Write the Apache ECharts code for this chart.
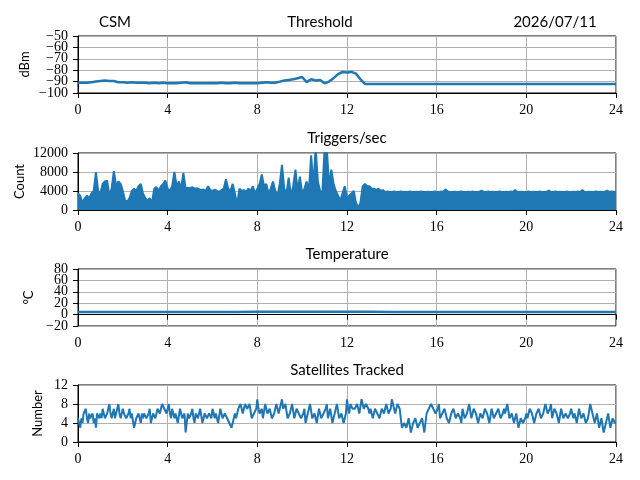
<!DOCTYPE html>
<html>
<head>
<meta charset="utf-8">
<script src="https://cdn.jsdelivr.net/npm/echarts@6/dist/echarts.min.js"></script>
<style>html,body{margin:0;padding:0;background:#fff}#c{width:640px;height:480px}</style>
</head>
<body>
<div id="c"></div>
<script>
// ---- data ----
const thresholdStep = 0.2; // hours
const threshold = [
  -91,-91,-91,-90.5,-90,-89.5,-89,-89.5,-89.5,-90.5,
  -90.5,-91,-90.5,-91,-91,-91,-91.5,-91,-91.5,-91,
  -91.5,-91.5,-91.5,-91,-90.5,-91.5,-91.5,-91.5,-91.5,-91.5,
  -91.5,-91.5,-91,-91.5,-91.5,-91,-91.5,-91.5,-91.5,-91.5,
  -91.5,-91,-90.5,-91,-91,-90,-89,-88.5,-88,-87,
  -86,-90.5,-88,-89,-88.5,-91.5,-90,-87,-83.5,-81.5,
  -82,-81.5,-83,-88,-92,-92,-92,-92,-92,-92,
  -92,-92,-92,-92,-92,-92,-92,-92,-92,-92,
  -92,-92,-92,-92,-92,-92,-92,-92,-92,-92,
  -92,-92,-92,-92,-92,-92,-92,-92,-92,-92,
  -92,-92,-92,-92,-92,-92,-92,-92,-92,-92,
  -92,-92,-92,-92,-92,-92,-92,-92,-92,-92,
  -92
];
const triggersStep = 0.1;
const triggers = [
  3500,3000,1500,2500,3000,2500,3500,4000,8000,4000,
  3500,5500,6000,6200,3000,4500,8200,5000,6000,5500,
  4000,2000,1800,2500,4000,4500,4000,5000,5500,3500,
  2500,2000,2500,1500,4500,4800,4000,5000,5500,6200,
  4500,4000,5000,8000,5000,6000,4500,7800,4500,4700,
  4600,4800,4500,4600,4400,4200,4300,4000,5000,4200,
  4000,4300,4000,3800,4200,4500,6500,4500,4000,5500,
  3500,1000,4500,4000,4200,3800,4500,4000,5000,3500,
  4500,5500,7500,5000,5500,3500,4500,6000,4000,3000,
  5500,9500,4500,3500,6800,3000,5000,8500,4000,7000,
  3500,4500,6000,4000,11500,5000,13000,6000,4000,3500,
  13000,13000,5000,8500,5500,4000,3000,2000,3500,5000,
  2500,3000,3500,4000,1500,500,1500,5000,5500,5000,
  5000,4500,4500,4200,4500,4000,4200,3800,3900,3800,
  3800,3900,3800,3800,3900,3800,3850,3800,3900,3800,
  3800,3850,3800,3900,3800,3800,3850,3800,3800,3900,
  3800,3800,3900,3850,4300,3900,3800,3800,3850,3800,
  3800,3900,3800,3800,3850,3800,3900,3800,3800,3850,
  4100,3800,3800,3900,3800,3850,3800,3800,3900,3800,
  3800,3850,3800,3900,3800,4200,3800,3800,3850,3800,
  3800,3900,3800,3850,3800,3800,3900,3800,3800,3850,
  4100,3800,3800,3900,3800,3850,3800,3800,3900,3800,
  3800,3850,3800,3900,3800,4200,3800,3800,3850,3800,
  3800,3900,3800,3850,3800,3800,4100,3800,3900,3850,
  3800
];
const temperatureStep = 1;
const temperature = [
  4.6,4.5,4.5,4.4,4.4,4.5,4.6,4.7,4.8,4.8,4.9,4.9,4.8,
  4.8,4.7,4.6,4.5,4.5,4.4,4.4,4.4,4.5,4.5,4.5,4.5
];
const satellitesStep = 0.05;
const satellites = [
  5,4,3,5,4,6,6,7,5,4,6,5,5,6,4,5,3,6,6,5,
  6,5,7,6,5,5,6,7,8,6,5,6,7,5,6,7,8,6,5,6,
  7,6,6,5,5,6,7,5,6,6,3,4,5,5,6,5,4,6,5,6,
  6,5,5,6,7,4,4,6,6,5,5,7,7,6,6,8,8,7,7,6,
  7,8,6,5,7,6,5,6,6,4,4,7,7,5,5,6,2,4,6,5,
  5,6,7,5,4,6,6,5,5,7,7,4,4,6,6,5,5,6,6,5,
  7,6,5,6,6,4,4,7,7,5,5,6,6,5,5,4,4,3,3,5,
  6,5,5,7,7,8,8,6,6,8,8,7,7,8,8,5,5,6,6,7,
  9,7,6,6,7,5,5,8,8,6,6,7,7,5,5,6,6,8,8,6,
  6,8,9,7,7,8,8,5,5,6,6,8,8,5,5,7,7,6,6,5,
  5,6,7,4,4,6,6,8,8,5,5,6,6,4,4,7,7,5,5,6,
  6,7,8,5,5,7,7,4,4,6,6,8,8,5,5,6,6,4,4,6,
  9,7,6,8,8,7,7,7,7,8,8,6,6,9,9,7,7,8,8,7,
  6,7,7,5,5,7,7,6,6,5,5,7,7,6,6,8,8,6,6,7,
  9,8,7,6,6,8,8,7,7,3,3,4,4,3,3,5,5,2,2,4,
  4,5,5,3,3,4,4,5,5,2,2,6,6,7,7,8,8,7,7,6,
  6,7,8,5,5,6,6,7,7,5,5,4,4,6,6,7,7,5,5,6,
  6,5,4,7,7,5,5,6,6,8,8,5,5,7,7,6,6,4,4,6,
  6,5,5,7,7,6,6,4,4,7,7,5,5,6,6,7,7,5,5,6,
  7,6,6,8,8,5,5,6,6,4,4,6,6,3,3,5,5,4,4,5,
  6,5,5,7,7,6,6,4,4,6,6,7,7,5,5,6,6,8,8,6,
  6,7,8,5,5,7,7,6,6,4,4,7,7,5,5,6,6,5,5,6,
  7,6,5,6,6,4,4,7,7,5,5,6,6,4,4,5,5,8,8,6,
  5,4,4,6,6,3,3,5,5,2,2,4,4,6,6,3,3,5,5,4,
  4
];
const panelTitles = ['Threshold', 'Triggers/sec', 'Temperature', 'Satellites Tracked'];
const yNames = ['dBm', 'Count', '°C', 'Number'];
const yTickLabels = [
  [-100, -90, -80, -70, -60, -50],
  [0, 4000, 8000, 12000],
  [-20, 0, 20, 40, 60, 80],
  [0, 4, 8, 12]
];
const headerLeft = 'CSM';
const headerRight = '2026/07/11';

// ---- chart ----
const toXY = (arr, step) => arr.map((v, i) => [Math.round(i * step * 100) / 100, v]);
const BLUE = '#1f77b4';
const tops = [36, 153, 269, 385];
const H = 57;
const nameGaps = [47, 52, 43, 34];
const serif = 'Liberation Serif';
const sans = 'Lato';
const fmt = v => String(v).replace('-', '\u2212');

const grids = tops.map(t => ({ left: 78, right: 24, top: t, height: H, show: true, borderColor: '#000', borderWidth: 1, backgroundColor: 'transparent' }));
const xAxes = tops.map((t, i) => ({
  type: 'value', gridIndex: i, min: 0, max: 24, interval: 4,
  axisLine: { show: true, lineStyle: { color: '#000', width: 1 } },
  axisTick: { show: true, length: 5, lineStyle: { color: '#000', width: 1 } },
  axisLabel: { fontFamily: serif, fontSize: 14, color: '#000', margin: 10, formatter: fmt, showMinLabel: true, showMaxLabel: true },
  splitLine: { show: true, lineStyle: { color: '#b0b0b0', width: 1 } }
}));
const yAxes = tops.map((t, i) => {
  const ticks = yTickLabels[i];
  return {
    type: 'value', gridIndex: i, min: ticks[0], max: ticks[ticks.length - 1], interval: ticks[1] - ticks[0],
    name: yNames[i], nameLocation: 'middle', nameGap: nameGaps[i], nameRotate: 90,
    nameTextStyle: { fontFamily: sans, fontSize: 13, color: '#000' },
    axisLine: { show: true, lineStyle: { color: '#000', width: 1 } },
    axisTick: { show: true, length: 5, lineStyle: { color: '#000', width: 1 } },
    axisLabel: { show: false },
    splitLine: { show: true, lineStyle: { color: '#b0b0b0', width: 1 } }
  };
});

const base = { type: 'line', showSymbol: false, symbol: 'none', animation: false, clip: true };
const series = [
  Object.assign({}, base, { xAxisIndex: 0, yAxisIndex: 0, data: toXY(threshold, thresholdStep), lineStyle: { color: BLUE, width: 2.5 } }),
  Object.assign({}, base, { xAxisIndex: 1, yAxisIndex: 1, data: toXY(triggers, triggersStep), lineStyle: { color: BLUE, width: 2 }, areaStyle: { color: BLUE, opacity: 1, origin: 'start' } }),
  Object.assign({}, base, { xAxisIndex: 2, yAxisIndex: 2, data: toXY(temperature, temperatureStep), lineStyle: { color: BLUE, width: 2.5 } }),
  Object.assign({}, base, { xAxisIndex: 3, yAxisIndex: 3, data: toXY(satellites, satellitesStep), lineStyle: { color: BLUE, width: 2 } })
];

const chart = echarts.init(document.getElementById('c'), null, { renderer: 'canvas' });
chart.setOption({
  backgroundColor: '#fff',
  animation: false,
  grid: grids, xAxis: xAxes, yAxis: yAxes, series: series
});

// titles and y tick labels (tick label positions come from the axis scales)
const txt = (x, y, s, font, align) => ({ type: 'text', x: x, y: y, silent: true,
  style: { text: s, textAlign: align || 'center', textVerticalAlign: 'middle', font: font, fill: '#000' } });
const texts = [
  txt(115, 22, headerLeft, '15px ' + sans),
  txt(320, 22, panelTitles[0], '15px ' + sans),
  txt(555, 22, headerRight, '15px ' + sans)
];
[1, 2, 3].forEach(i => texts.push(txt(347, tops[i] - 15, panelTitles[i], '15px ' + sans)));
yTickLabels.forEach((ticks, i) => {
  const xPix = chart.convertToPixel({ gridIndex: i }, [0, ticks[0]])[0];
  ticks.forEach(v => {
    const yPix = chart.convertToPixel({ yAxisIndex: i }, v);
    texts.push(txt(xPix - 10, yPix, fmt(v), '14px ' + serif, 'right'));
  });
});
chart.setOption({ graphic: texts });
</script>
</body>
</html>
